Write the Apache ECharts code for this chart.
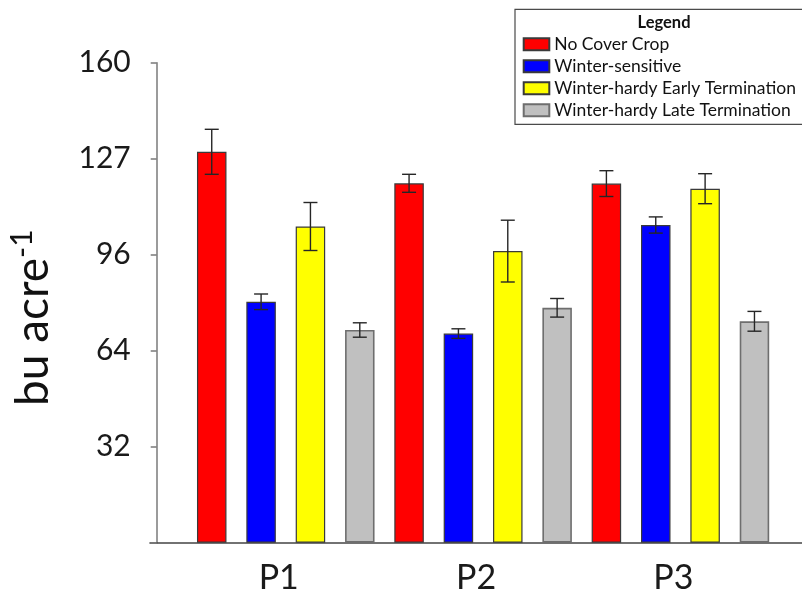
<!DOCTYPE html>
<html>
<head>
<meta charset="utf-8">
<script src="https://cdn.jsdelivr.net/npm/echarts@6/dist/echarts.min.js"></script>
<style>
  html, body { margin: 0; padding: 0; background: #fff; }
  #chart { width: 802px; height: 594px; }
</style>
</head>
<body>
<div id="chart"></div>
<script>
// Yield by planting period and cover-crop treatment (bu acre^-1), mean ± error
const periods = ['P1', 'P2', 'P3'];
const treatments = [
  'No Cover Crop',
  'Winter-sensitive',
  'Winter-hardy Early Termination',
  'Winter-hardy Late Termination'
];
const noCoverCrop      = [130.3, 119.8, 119.7];
const winterSensitive  = [80.3, 69.7, 105.9];
const hardyEarly       = [105.4, 97.2, 118.0];
const hardyLate        = [70.9, 78.3, 73.8];
const noCoverCropErr     = [7.5, 3.0, 4.3];
const winterSensitiveErr = [2.6, 1.6, 2.7];
const hardyEarlyErr      = [8.0, 10.3, 5.0];
const hardyLateErr       = [2.4, 3.1, 3.3];
const yTicks      = [32, 64, 96, 128, 160];
const yTickLabels = ['32', '64', '96', '127', '160'];

const means = [noCoverCrop, winterSensitive, hardyEarly, hardyLate];
const errs  = [noCoverCropErr, winterSensitiveErr, hardyEarlyErr, hardyLateErr];
const fills   = ['#ff0000', '#0000ff', '#ffff00', '#c0c0c0'];
const borders = ['#3a3a3a', '#3a3a3a', '#3a3a3a', '#6e6e6e'];

const FONT = 'Lato, "Open Sans", sans-serif';
const BAR_W = 29.5;
const BAR_GAP = 0.673;
const GRID_TOP = 62.7;
const GRID_BOTTOM = 51.3;

const chart = echarts.init(document.getElementById('chart'), null, { renderer: 'canvas' });

const barSeries = treatments.map((name, k) => ({
  name: name,
  type: 'bar',
  xAxisIndex: 0,
  yAxisIndex: 0,
  data: means[k],
  barWidth: BAR_W,
  barGap: (BAR_GAP * 100) + '%',
  itemStyle: { color: fills[k], borderColor: borders[k], borderWidth: k === 3 ? 1.6 : 1.2 },
  emphasis: { disabled: true },
  silent: true,
  z: 2
}));

// Error bars drawn on top of each bar, offset to the bar's slot in its group
const errorSeries = treatments.map((name, k) => ({
  name: name + ' error',
  type: 'custom',
  xAxisIndex: 0,
  yAxisIndex: 0,
  silent: true,
  z: 5,
  encode: { x: 0, y: 1 },
  data: means[k].map((v, i) => [i, v, errs[k][i]]),
  renderItem: function (params, api) {
    const i = api.value(0);
    const v = api.value(1);
    const e = api.value(2);
    const pitch = BAR_W * (1 + BAR_GAP);
    const dx = (k - 1.5) * pitch;
    const top = api.coord([i, v + e]);
    const bot = api.coord([i, v - e]);
    const x = top[0] + dx;
    const cap = 7;
    const style = { stroke: '#262626', lineWidth: 1.4 };
    return {
      type: 'group',
      children: [
        { type: 'line', shape: { x1: x, y1: top[1], x2: x, y2: bot[1] }, style: style },
        { type: 'line', shape: { x1: x - cap, y1: top[1], x2: x + cap, y2: top[1] }, style: style },
        { type: 'line', shape: { x1: x - cap, y1: bot[1], x2: x + cap, y2: bot[1] }, style: style }
      ]
    };
  }
}));

const option = {
  animation: false,
  backgroundColor: '#ffffff',
  textStyle: { fontFamily: FONT },
  title: {
    text: 'Legend',
    left: 664,
    top: 14,
    textAlign: 'center',
    padding: 0,
    textStyle: { fontFamily: FONT, fontSize: 16.5, fontWeight: 'bold', color: '#111' }
  },
  legend: {
    data: treatments,
    orient: 'vertical',
    left: 515,
    top: 9.3,
    padding: [26, 40, 5, 7.7],
    icon: 'rect',
    itemWidth: 25.6,
    itemHeight: 12,
    itemGap: 4,
    borderColor: '#4a4a4a',
    borderWidth: 1.2,
    selectedMode: false,
    textStyle: { fontFamily: FONT, fontSize: 17.5, color: '#111', lineHeight: 18 }
  },
  grid: [
    { left: 187.1, width: 592, top: GRID_TOP, bottom: GRID_BOTTOM, containLabel: false, outerBoundsMode: 'none' },
    { left: 150, right: 0, top: GRID_TOP, bottom: GRID_BOTTOM, containLabel: false, outerBoundsMode: 'none' }
  ],
  xAxis: [
    {
      type: 'category',
      gridIndex: 0,
      data: periods,
      axisLine: { show: false },
      axisTick: { show: false },
      axisLabel: {
        margin: 18,
        fontFamily: FONT,
        fontSize: 34,
        color: '#1a1a1a',
        padding: [0, 14, 0, 0]
      }
    },
    {
      type: 'value',
      gridIndex: 1,
      min: 0,
      max: 1,
      axisLine: { show: true, lineStyle: { color: '#444', width: 1.6 } },
      axisTick: { show: false },
      axisLabel: { show: false },
      splitLine: { show: false }
    }
  ],
  yAxis: [
    {
      type: 'value',
      gridIndex: 0,
      min: 0,
      max: 160,
      interval: 32,
      offset: 30.4,
      name: '{m|bu acre}{s|-1}',
      nameLocation: 'middle',
      nameRotate: 90,
      nameGap: 99,
      nameTextStyle: {
        padding: [0, 30, 0, 0],
        rich: {
          m: { fontFamily: FONT, fontSize: 46, color: '#111', lineHeight: 50 },
          s: { fontFamily: FONT, fontSize: 30, color: '#111', verticalAlign: 'top', lineHeight: 50 }
        }
      },
      axisLine: { show: true, lineStyle: { color: '#7a7a7a', width: 1.5 } },
      axisTick: { show: true, length: 6, lineStyle: { color: '#7a7a7a', width: 1.5 } },
      splitLine: { show: false },
      axisLabel: {
        margin: 26,
        fontFamily: FONT,
        fontSize: 30,
        color: '#1a1a1a',
        formatter: function (v) {
          const idx = yTicks.indexOf(v);
          return idx >= 0 ? yTickLabels[idx] : '';
        }
      }
    },
    {
      type: 'value',
      gridIndex: 1,
      show: false,
      min: 0,
      max: 160
    }
  ],
  series: barSeries.concat(errorSeries)
};

chart.setOption(option);
</script>
</body>
</html>
